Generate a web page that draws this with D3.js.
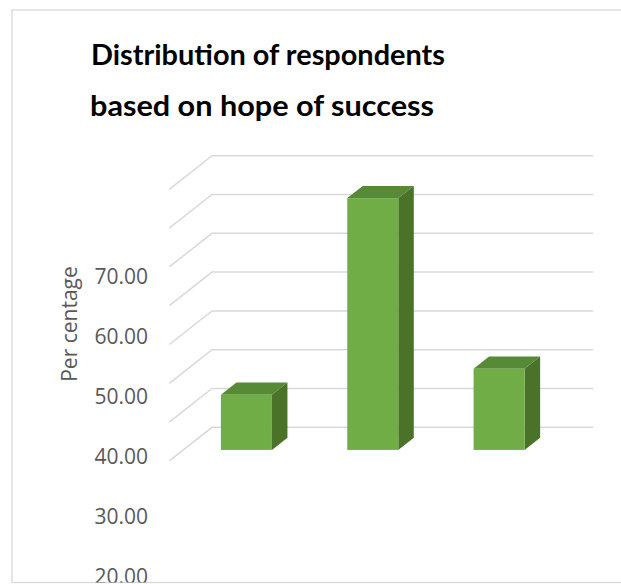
<!DOCTYPE html>
<html>
<head>
<meta charset="utf-8">
<script src="https://cdn.jsdelivr.net/npm/d3@7"></script>
<style>
  html, body { margin: 0; padding: 0; background: #ffffff; }
  svg { display: block; }
</style>
</head>
<body>
<svg id="chart" width="621" height="584"></svg>
<script>
// Chart data
const categories = ["1", "2", "3"];
const values = [14.2, 64.9, 20.9];
const gridTicks = [0, 10, 20, 30, 40, 50, 60, 70];
const labelTicks = [0, 10, 20, 30, 40, 50, 60, 70];
const titleLines = ["Distribution of respondents", "based on hope of success"];
const axisTitle = "Per centage";

const svg = d3.select("#chart");

// Outer chart frame
const frame = { x: 12, y: 10, w: 640, h: 572.5 };
svg.append("defs").append("clipPath").attr("id", "frameClip")
  .append("rect").attr("x", frame.x).attr("y", frame.y).attr("width", frame.w).attr("height", frame.h);
svg.append("rect")
  .attr("x", frame.x).attr("y", frame.y).attr("width", frame.w).attr("height", frame.h)
  .attr("fill", "#ffffff").attr("stroke", "#d9d9d9").attr("stroke-width", 1.3);

// Title, two centred lines
const titleLayout = [{ cx: 268, len: 354 }, { cx: 262, len: 344 }];
svg.append("g").selectAll("text").data(titleLines).join("text")
  .attr("x", (d, i) => titleLayout[i].cx).attr("y", (d, i) => 64.5 + i * 51)
  .attr("text-anchor", "middle")
  .attr("font-family", "Lato, 'Open Sans', sans-serif")
  .attr("font-weight", "bold")
  .attr("font-size", 29)
  .attr("textLength", (d, i) => titleLayout[i].len)
  .attr("lengthAdjust", "spacingAndGlyphs")
  .attr("fill", "#000000")
  .text(d => d);

// 3D wall geometry: back wall and the depth vector toward the viewer
const depth = { dx: -42.7, dy: 33.6 };
const backLeft = 212, backRight = 593.3;
const yWall = d3.scaleLinear().domain([0, 70]).range([427.3, 155.7]);

// Gridlines on the back wall with the side-wall diagonal
svg.append("g").selectAll("path").data(gridTicks).join("path")
  .attr("d", v => {
    const y = yWall(v);
    return `M${backLeft + depth.dx},${y + depth.dy} L${backLeft},${y} L${backRight},${y}`;
  })
  .attr("fill", "none").attr("stroke", "#d9d9d9").attr("stroke-width", 1.5);

// Category positions along the floor (back plane)
const x = d3.scaleBand().domain(categories).range([212, 591]).padding(0);
const barFrac = 0.404;
const frontF = 0.673, backF = 0.31;   // depth fractions of bar faces (0 = back wall)
const bw = x.bandwidth() * barFrac;

const bars = values.map((v, i) => {
  const cx = x(categories[i]) + x.bandwidth() / 2;
  const fx = cx + depth.dx * frontF - bw / 2;
  const fyTop = yWall(v) + depth.dy * frontF;
  const fyBot = yWall(0) + depth.dy * frontF;
  const ddx = depth.dx * (backF - frontF), ddy = depth.dy * (backF - frontF);
  return { fx, fyTop, fyBot, ddx, ddy };
});

const barG = svg.append("g");
// top face
barG.selectAll("path.top").data(bars).join("path").attr("class", "top")
  .attr("d", b => `M${b.fx},${b.fyTop} L${b.fx + bw},${b.fyTop} L${b.fx + bw + b.ddx},${b.fyTop + b.ddy} L${b.fx + b.ddx},${b.fyTop + b.ddy} Z`)
  .attr("fill", "#578a36");
// side face
barG.selectAll("path.side").data(bars).join("path").attr("class", "side")
  .attr("d", b => `M${b.fx + bw},${b.fyTop} L${b.fx + bw + b.ddx},${b.fyTop + b.ddy} L${b.fx + bw + b.ddx},${b.fyBot + b.ddy} L${b.fx + bw},${b.fyBot} Z`)
  .attr("fill", "#4a7229");
// front face
barG.selectAll("rect.front").data(bars).join("rect").attr("class", "front")
  .attr("x", b => b.fx).attr("y", b => b.fyTop)
  .attr("width", bw).attr("height", b => b.fyBot - b.fyTop)
  .attr("fill", "#70ad47");

// Value axis labels (clipped by the chart frame)
const yLabel = d3.scaleLinear().domain([0, 70]).range([696.7, 276.7]);
const axis = svg.append("g")
  .attr("clip-path", "url(#frameClip)")
  .append("g")
  .attr("transform", "translate(150,0)")
  .call(d3.axisLeft(yLabel).tickValues(labelTicks).tickFormat(d3.format(".2f")).tickSize(0).tickPadding(2));
axis.select(".domain").remove();
axis.selectAll("text")
  .attr("font-family", "'Open Sans', sans-serif")
  .attr("font-size", 21)
  .attr("fill", "#595959");

// Axis title
svg.append("text")
  .attr("transform", "translate(77,324) rotate(-90)")
  .attr("text-anchor", "middle")
  .attr("font-family", "'Open Sans', sans-serif")
  .attr("font-size", 21)
  .attr("fill", "#595959")
  .text(axisTitle);
</script>
</body>
</html>
